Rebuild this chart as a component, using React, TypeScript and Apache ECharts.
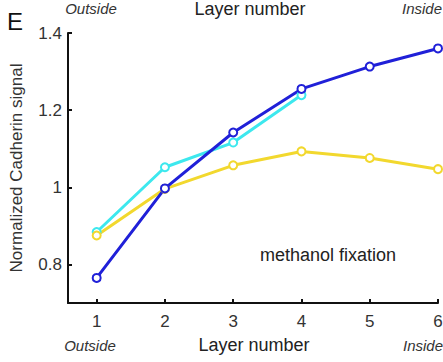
import React, { useEffect, useRef } from "react";
import * as echarts from "echarts";

const layers = [1, 2, 3, 4, 5, 6];
const blueValues = [0.765, 0.997, 1.142, 1.255, 1.313, 1.36];
const cyanValues = [0.884, 1.052, 1.116, 1.239];
const yellowValues = [0.875, 0.996, 1.057, 1.093, 1.076, 1.047];
const yTicks = [0.8, 1.0, 1.2, 1.4];

const FONT = "Liberation Sans, Arial, sans-serif";

export default function App() {
  const ref = useRef<HTMLDivElement>(null);
  useEffect(() => {
    if (!ref.current) return;
    const chart = echarts.init(ref.current, null, { renderer: "svg" });
    const mk = (vals: number[]) => vals.map((v, i) => [layers[i], v]);
    const lineSeries = (name: string, vals: number[], color: string) => ({
      name,
      type: "line",
      data: mk(vals),
      symbol: "emptyCircle",
      symbolSize: 8,
      lineStyle: { color, width: 3 },
      itemStyle: { color, borderColor: color, borderWidth: 2 },
      z: 3,
    });
    const italic = (x: number, y: number, text: string, align: string) => ({
      type: "text",
      x,
      y,
      style: { text, fontSize: 15, fontStyle: "italic", fontFamily: FONT, fill: "#333", align, verticalAlign: "middle" },
    });
    const plain = (x: number, y: number, text: string) => ({
      type: "text",
      x,
      y,
      style: { text, fontSize: 18, fontFamily: FONT, fill: "#222", align: "center", verticalAlign: "middle" },
    });
    chart.setOption({
      animation: false,
      backgroundColor: "#ffffff",
      grid: { left: 68, right: 5, top: 33, bottom: 59, containLabel: false, outerBoundsMode: "none" },
      xAxis: {
        type: "value",
        min: 0.58,
        max: 6,
        axisLine: { show: true, lineStyle: { color: "#111", width: 2 } },
        axisTick: {
          show: true,
          inside: true,
          length: 4,
          lineStyle: { color: "#111", width: 2 },
          customValues: layers,
        },
        axisLabel: {
          customValues: layers,
          color: "#333",
          fontSize: 17,
          fontFamily: FONT,
          margin: 10,
          hideOverlap: false,
          formatter: (v: number) => String(v),
        },
        splitLine: { show: false },
      },
      yAxis: {
        type: "value",
        min: 0.7,
        max: 1.4,
        axisLine: { show: true, lineStyle: { color: "#111", width: 2 } },
        axisTick: {
          show: true,
          inside: true,
          length: 4,
          lineStyle: { color: "#111", width: 2 },
          customValues: yTicks,
        },
        axisLabel: {
          customValues: yTicks,
          color: "#333",
          fontSize: 17,
          fontFamily: FONT,
          margin: 6,
          formatter: (v: number) => (Math.abs(v - 1) < 1e-9 ? "1" : String(Number(v.toFixed(1)))),
        },
        splitLine: { show: false },
        name: "Normalized Cadherin signal",
        nameLocation: "middle",
        nameRotate: 90,
        nameGap: 43,
        nameTextStyle: { color: "#333", fontSize: 17, fontFamily: FONT },
      },
      series: [
        lineSeries("cyan", cyanValues, "#3de8ee"),
        lineSeries("yellow", yellowValues, "#f2d82e"),
        lineSeries("blue", blueValues, "#2020d8"),
      ],
      graphic: [
        { type: "text", x: 7, y: 9, style: { text: "E", fontSize: 24, fontFamily: FONT, fill: "#111" } },
        italic(91, 8, "Outside", "center"),
        plain(250, 9, "Layer number"),
        italic(442, 8, "Inside", "right"),
        italic(90, 345, "Outside", "center"),
        plain(254, 345, "Layer number"),
        italic(443, 345, "Inside", "right"),
        { type: "text", x: 328, y: 255, style: { text: "methanol fixation", fontSize: 18, fontFamily: FONT, fill: "#222", align: "center", verticalAlign: "middle" } },
      ],
    });
    return () => chart.dispose();
  }, []);
  return <div ref={ref} style={{ width: 443, height: 362, position: "absolute", left: 0, top: 0 }} />;
}
